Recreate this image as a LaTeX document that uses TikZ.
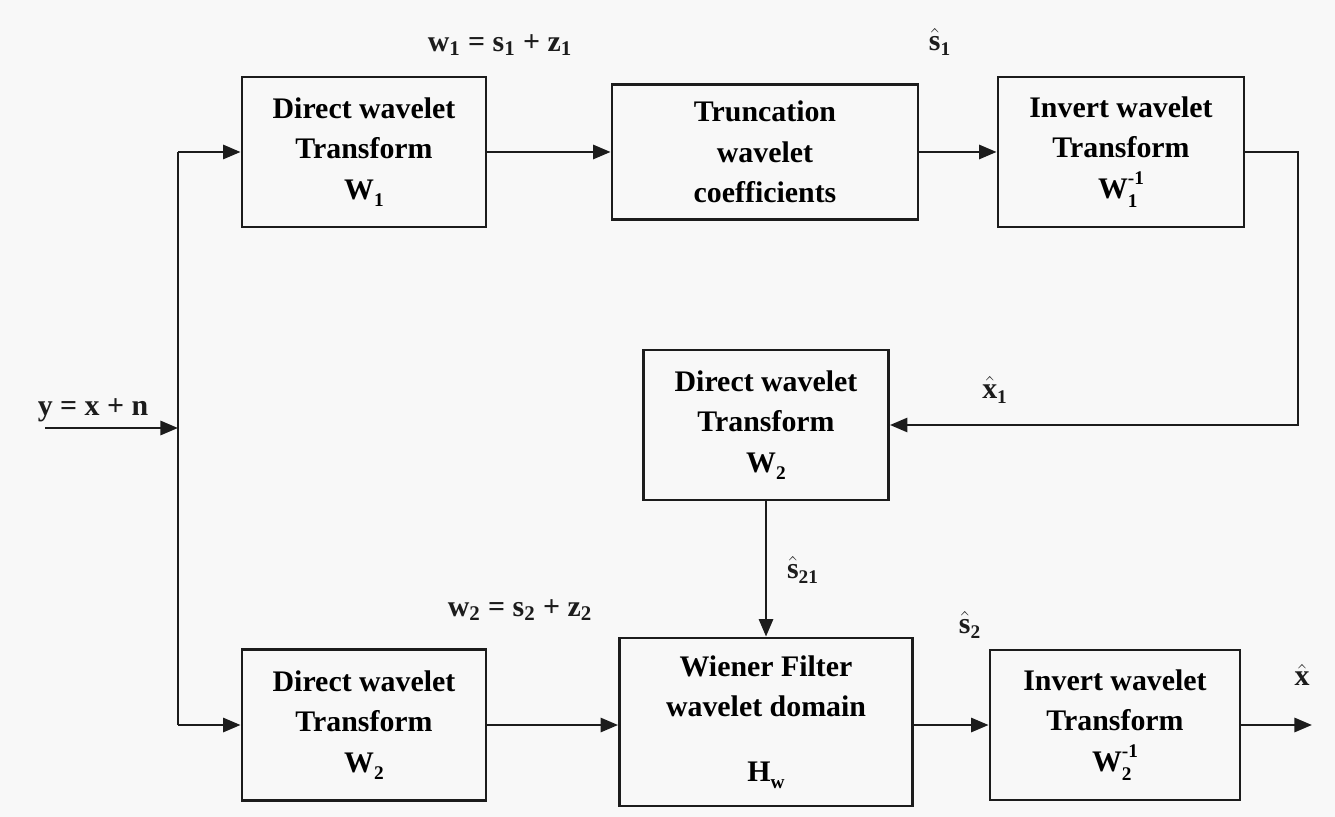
\documentclass[tikz,border=0pt]{standalone}
\usepackage{fontspec}
\setmainfont{Liberation Serif}
\usetikzlibrary{arrows.meta,positioning}
\definecolor{paper}{RGB}{248,248,248}
\definecolor{ink}{RGB}{28,28,28}
\newcommand\ix[1]{\hbox{\bfseries\fontsize{11}{11}\selectfont#1}}
\newcommand\sighat[2]{$\hat{\hbox{#1}}_{\ix{#2}}$}
\newcommand\opsym[2]{#1\raisebox{-4pt}{\ix{#2}}}
\newcommand\opinv[2]{#1\rlap{\raisebox{-5pt}{\ix{#2}}}\raisebox{8pt}{\ix{-1}}}
\tikzset{
  blk/.style={draw=ink,line width=1.6pt,align=center,inner sep=0pt,
    font=\bfseries\fontsize{17}{23}\selectfont},
  lbl/.style={font=\bfseries\fontsize{17}{21}\selectfont,text=ink},
  wire/.style={draw=ink,line width=1.6pt},
  arr/.style={wire,-{Triangle[length=10pt,width=8pt]}}
}

\begin{document}
\begin{tikzpicture}[x=0.02cm,y=-0.02cm]
  \fill[paper] (0,0) rectangle (1335,817);
  \useasboundingbox (0,0) rectangle (1335,817);
  % upper branch
  \node[blk,minimum width=4.88cm,minimum height=3cm] (dwtA) at (364,152)
    {Direct wavelet\\Transform\\\opsym{W}{1}};
  \node[blk,minimum width=6.12cm,minimum height=2.7cm] (trunc) at (765,152)
    {Truncation\\wavelet\\coefficients};
  \node[blk,minimum width=4.92cm,minimum height=3cm] (invA) at (1121,152)
    {Invert wavelet\\Transform\\\opinv{W}{1}};
  % middle
  \node[blk,minimum width=4.9cm,minimum height=3cm] (dwtB) at (766,425)
    {Direct wavelet\\Transform\\\opsym{W}{2}};
  % lower branch
  \node[blk,minimum width=4.88cm,minimum height=3.02cm] (dwtC) at (364,725)
    {Direct wavelet\\Transform\\\opsym{W}{2}};
  \node[blk,minimum width=5.86cm,minimum height=3.36cm] (wien) at (766,722)
    {Wiener Filter\\wavelet domain\\[14pt]\opsym{H}{w}};
  \node[blk,minimum width=5cm,minimum height=3cm] (invB) at (1115,725)
    {Invert wavelet\\Transform\\\opinv{W}{2}};

  \coordinate (src) at (45,428);
  \coordinate (fork) at (178,428);
  \coordinate (sink) at (1312,725);
  \coordinate (back) at (1298,152);

  \draw[arr] (src) -- (fork);
  \draw[wire] (dwtA.west -| fork) -- (dwtC.west -| fork);
  \draw[arr] (dwtA.west -| fork) -- (dwtA.west);
  \draw[arr] (dwtC.west -| fork) -- (dwtC.west);
  \draw[arr] (dwtA) -- (trunc);
  \draw[arr] (trunc) -- (invA);
  \draw[arr] (invA.east) -- (back) |- (dwtB.east);
  \draw[arr] (dwtB) -- (wien);
  \draw[arr] (dwtC.east) -- (dwtC.east -| wien.west);
  \draw[arr] (wien.east |- invB) -- (invB.west);
  \draw[arr] (invB.east) -- (sink);

  % signal labels
  \node[lbl] (yin) at (93,410) {y = x + n};
  \node[lbl] (wA) at (500,45) {w\textsubscript{1} = s\textsubscript{1} + z\textsubscript{1}};
  \node[lbl] (sA) at (940,42) {\sighat{s}{1}};
  \node[lbl] (xA) at (995,390) {\sighat{x}{1}};
  \node[lbl] (sB) at (803,570) {\sighat{s}{21}};
  \node[lbl] (wB) at (520,610) {w\textsubscript{2} = s\textsubscript{2} + z\textsubscript{2}};
  \node[lbl] (sC) at (970,625) {\sighat{s}{2}};
  \node[lbl] (xout) at (1302,675) {$\hat{\hbox{x}}$};
\end{tikzpicture}
\end{document}
